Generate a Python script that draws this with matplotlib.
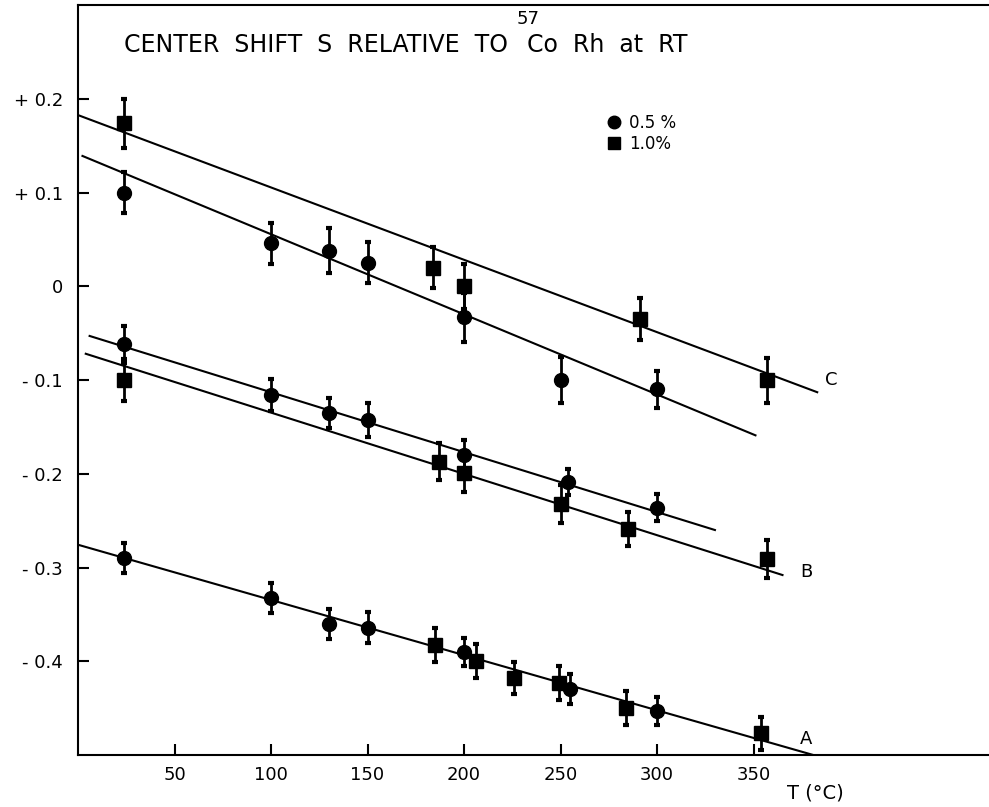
# -*- coding: utf-8 -*-

import numpy as np
import matplotlib.pyplot as plt

# --- data (T in deg C, S in mm/s) ---
# group C
c_sq_t = [24, 184, 200, 291, 357]
c_sq_s = [0.174, 0.020, 0.000, -0.035, -0.100]
c_sq_err = [0.026, 0.022, 0.024, 0.022, 0.024]
c_ci_t = [24, 100, 130, 150, 200, 250, 300]
c_ci_s = [0.100, 0.046, 0.038, 0.025, -0.033, -0.100, -0.110]
c_ci_err = [0.022, 0.022, 0.024, 0.022, 0.026, 0.025, 0.020]

# group B
b_ci_t = [24, 100, 130, 150, 200, 254, 300]
b_ci_s = [-0.062, -0.116, -0.135, -0.143, -0.180, -0.209, -0.236]
b_ci_err = [0.020, 0.017, 0.016, 0.018, 0.016, 0.014, 0.014]
b_sq_t = [24, 187, 200, 250, 285, 357]
b_sq_s = [-0.100, -0.187, -0.199, -0.232, -0.259, -0.291]
b_sq_err = [0.022, 0.020, 0.020, 0.020, 0.018, 0.020]

# group A
a_ci_t = [24, 100, 130, 150, 200, 255, 300]
a_ci_s = [-0.290, -0.332, -0.360, -0.364, -0.390, -0.430, -0.453]
a_ci_err = [0.016, 0.016, 0.016, 0.017, 0.015, 0.016, 0.015]
a_sq_t = [185, 206, 226, 249, 284, 354]
a_sq_s = [-0.383, -0.400, -0.418, -0.423, -0.450, -0.477]
a_sq_err = [0.018, 0.018, 0.017, 0.018, 0.018, 0.018]

# straight-line fits (end points as drawn)
fit_lines = {
    'C_sq': ([0.75, 383], [0.182, -0.113]),
    'C_ci': ([2.3, 351], [0.139, -0.159]),
    'B_ci': ([6, 330], [-0.053, -0.260]),
    'B_sq': ([4, 365], [-0.072, -0.308]),
    'A': ([0.5, 381], [-0.276, -0.500]),
}

curve_labels = [('C', 387, -0.100), ('B', 374, -0.305), ('A', 374, -0.483)]

x_ticks = [50, 100, 150, 200, 250, 300, 350]
y_ticks = [0.2, 0.1, 0.0, -0.1, -0.2, -0.3, -0.4]
y_tick_labels = ['+ 0.2', '+ 0.1', '0', '- 0.1', '- 0.2', '- 0.3', '- 0.4']

fig = plt.figure(figsize=(9.89, 8.07), dpi=100)
ax = fig.add_axes([0.0789, 0.0644, 0.9211, 0.9294])

for xs, ys in fit_lines.values():
    ax.plot(xs, ys, color='black', lw=1.5, zorder=2)

eb_kw = dict(color='black', ecolor='black', elinewidth=2.0, capsize=2.5,
             capthick=3.0, linestyle='none', zorder=3)
ax.errorbar(c_ci_t, c_ci_s, yerr=c_ci_err, marker='o', ms=10, **eb_kw)
ax.errorbar(b_ci_t, b_ci_s, yerr=b_ci_err, marker='o', ms=10, **eb_kw)
ax.errorbar(a_ci_t, a_ci_s, yerr=a_ci_err, marker='o', ms=10, **eb_kw)
ax.errorbar(c_sq_t, c_sq_s, yerr=c_sq_err, marker='s', ms=9.5, **eb_kw)
ax.errorbar(b_sq_t, b_sq_s, yerr=b_sq_err, marker='s', ms=9.5, **eb_kw)
ax.errorbar(a_sq_t, a_sq_s, yerr=a_sq_err, marker='s', ms=9.5, **eb_kw)

# legend (markers only)
h1, = ax.plot([], [], 'o', color='black', ms=9)
h2, = ax.plot([], [], 's', color='black', ms=9)
ax.legend([h1, h2], ['0.5 %', '1.0%'], loc='upper left',
          bbox_to_anchor=(0.565, 0.875), frameon=False, fontsize=12,
          handlelength=0.8, handletextpad=0.5, labelspacing=0.2)

for name, tx, ty in curve_labels:
    ax.text(tx, ty, name, fontsize=13, ha='left', va='center')

ax.text(0.05, 0.947, 'CENTER  SHIFT  S  RELATIVE  TO',
        transform=ax.transAxes, fontsize=17, ha='left', va='center')
ax.text(0.481, 0.982, '57', transform=ax.transAxes, fontsize=13,
        ha='left', va='center')
ax.text(0.493, 0.947, 'Co  Rh  at  RT', transform=ax.transAxes, fontsize=17,
        ha='left', va='center')
ax.text(0.809, -0.051, 'T (°C)', transform=ax.transAxes, fontsize=14,
        ha='center', va='center')

ax.set_xlim(0, 472)
ax.set_ylim(-0.5, 0.3)
ax.set_xticks(x_ticks)
ax.set_yticks(y_ticks)
ax.set_yticklabels(y_tick_labels)
ax.tick_params(direction='in', length=8, width=1.5, labelsize=13)
ax.tick_params(axis='y', pad=11)
ax.tick_params(axis='x', pad=8)
ax.spines['right'].set_visible(False)
for s in ['left', 'bottom', 'top']:
    ax.spines[s].set_linewidth(1.5)

fig.savefig('out.png', dpi=100)
